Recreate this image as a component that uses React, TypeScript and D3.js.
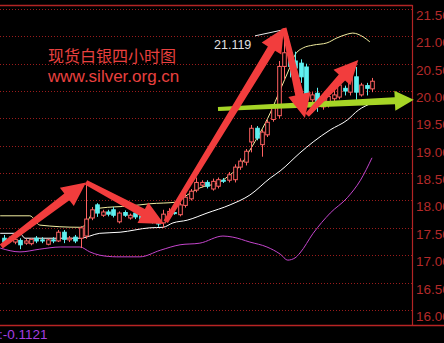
import React from 'react';
import * as d3 from 'd3';

// ---- data ----
const opens = [17.31, 17.28, 17.24, 17.27, 17.22, 17.21, 17.31, 17.28, 17.20, 17.28,
  17.26, 17.42, 17.28, 17.33, 17.31, 17.35, 17.68, 17.92, 17.73, 17.79,
  17.83, 17.61, 17.78, 17.68, 17.77, 17.72, 17.63, 17.68, 17.63, 17.59,
  17.72, 17.78, 17.74, 17.91, 18.03, 18.19, 18.28, 18.33, 18.21, 18.26,
  18.37, 18.37, 18.38, 18.61, 18.70, 19.07, 19.32, 19.02, 19.20, 19.48,
  19.55, 20.45, 20.70, 20.55, 20.51, 20.44, 19.84, 19.96, 19.71, 19.74,
  19.86, 19.89, 20.05, 19.98, 20.26, 19.93, 20.10, 20.04];
const highs = [17.37, 17.34, 17.32, 17.31, 17.30, 17.31, 17.35, 17.33, 17.30, 17.33,
  17.46, 17.46, 17.35, 17.37, 17.53, 18.32, 17.88, 17.95, 17.83, 17.83,
  17.88, 17.80, 17.82, 17.76, 17.80, 17.76, 17.72, 17.71, 17.66, 17.83,
  17.86, 17.80, 17.96, 18.15, 18.21, 18.42, 18.37, 18.37, 18.40, 18.42,
  18.41, 18.52, 18.66, 18.77, 18.94, 19.38, 19.36, 19.30, 19.48, 19.76,
  20.55, 21.119, 20.80, 20.72, 20.58, 20.50, 19.98, 20.06, 19.88, 19.95,
  20.02, 20.38, 20.10, 20.42, 20.44, 20.15, 20.15, 20.24];
const lows = [17.17, 17.22, 17.20, 17.11, 17.19, 17.18, 17.22, 17.22, 17.18, 17.22,
  17.24, 17.22, 17.24, 17.22, 17.13, 17.30, 17.64, 17.70, 17.70, 17.71,
  17.69, 17.58, 17.70, 17.65, 17.66, 17.62, 17.60, 17.58, 17.52, 17.50,
  17.68, 17.74, 17.71, 17.87, 18.00, 18.15, 18.24, 18.22, 18.18, 18.22,
  18.32, 18.33, 18.33, 18.56, 18.64, 18.88, 19.10, 18.80, 19.16, 19.44,
  19.50, 20.20, 20.25, 20.30, 20.15, 19.75, 19.60, 19.62, 19.66, 19.70,
  19.78, 19.85, 19.92, 19.92, 19.84, 19.90, 19.92, 19.98];
const closes = [17.24, 17.26, 17.29, 17.19, 17.26, 17.29, 17.26, 17.26, 17.28, 17.26,
  17.42, 17.29, 17.31, 17.26, 17.50, 17.66, 17.83, 17.77, 17.79, 17.75,
  17.73, 17.77, 17.73, 17.73, 17.70, 17.66, 17.68, 17.62, 17.57, 17.75,
  17.80, 17.76, 17.92, 18.06, 18.17, 18.33, 18.33, 18.26, 18.35, 18.38,
  18.36, 18.47, 18.61, 18.72, 18.90, 19.32, 19.14, 19.25, 19.43, 19.70,
  20.45, 20.70, 20.45, 20.42, 20.26, 19.84, 19.93, 19.78, 19.83, 19.90,
  19.93, 20.11, 20.00, 20.30, 19.98, 20.11, 20.05, 20.18];

const yTicks = [16, 16.5, 17, 17.5, 18, 18.5, 19, 19.5, 20, 20.5, 21, 21.5];

// bands as [candle index, price]
const upperBand: [number, number][] = [
  [-0.6, 17.72], [4.8, 17.72], [6.6, 17.55], [13.9, 17.51], [14.8, 17.55], [16.3, 17.79],
  [17.5, 17.86], [23.0, 17.90], [26.6, 17.94], [31.5, 17.97], [33.4, 18.10], [35.7, 18.23],
  [39.4, 18.34], [41.2, 18.47], [43.0, 18.63], [44.8, 18.92], [48.5, 19.60], [50.3, 20.02],
  [52.1, 20.44], [53.0, 20.66], [54.5, 20.79], [56.3, 20.84], [58.8, 20.88], [60.6, 20.97],
  [62.5, 21.04], [63.5, 21.06], [65.4, 20.99], [66.6, 20.90]];
const midBand: [number, number][] = [
  [-0.6, 17.40], [3.0, 17.40], [3.9, 17.31], [13.9, 17.31], [17.5, 17.40], [21.2, 17.42],
  [26.6, 17.50], [29.0, 17.51], [30.8, 17.59], [33.4, 17.64], [37.0, 17.77], [41.2, 17.92],
  [44.8, 18.10], [48.5, 18.41], [50.3, 18.54], [53.9, 18.87], [56.3, 19.07], [59.4, 19.29],
  [62.5, 19.47], [64.5, 19.65], [67.0, 19.78]];
const lowerBand: [number, number][] = [
  [-0.6, 17.13], [3.0, 17.06], [6.6, 17.11], [10.3, 17.15], [13.9, 17.15], [15.7, 17.06],
  [17.5, 17.00], [20.6, 16.97], [24.8, 16.97], [28.5, 17.09], [32.1, 17.19], [35.7, 17.22],
  [39.9, 17.35], [41.7, 17.33], [44.8, 17.24], [47.9, 17.15], [50.3, 17.02], [51.7, 16.91],
  [53.0, 16.95], [53.9, 17.04], [56.3, 17.40], [59.4, 17.77], [62.5, 18.05], [64.9, 18.37],
  [67.0, 18.78]];

// annotation arrows: [from, to] as [candle index, price]
const redArrows: [[number, number], [number, number]][] = [
  [[-0.4, 17.16], [15.0, 18.33]],
  [[15.0, 18.33], [29.2, 17.57]],
  [[29.5, 17.61], [51.0, 21.15]],
  [[51.0, 21.15], [54.8, 19.51]],
  [[55.2, 19.56], [64.5, 20.57]],
];
const greenArrow: [[number, number], [number, number]] = [[39.0, 19.67], [74.6, 19.84]];

const titleText = '现货白银四小时图';
const siteText = 'www.silver.org.cn';
const peakLabel = '21.119';
const peakIndex = 51;
const indicatorText = ':-0.1121';

function arrowPoints(x1: number, y1: number, x2: number, y2: number,
  tailW: number, shaftW: number, headLen: number, headW: number): string {
  const dx = x2 - x1, dy = y2 - y1;
  const L = Math.hypot(dx, dy);
  const ux = dx / L, uy = dy / L;
  const nx = -uy, ny = ux;
  const bx = x2 - ux * headLen, by = y2 - uy * headLen;
  const pts = [
    [x1 + nx * tailW / 2, y1 + ny * tailW / 2],
    [bx + nx * shaftW / 2, by + ny * shaftW / 2],
    [bx + nx * headW, by + ny * headW],
    [x2, y2],
    [bx - nx * headW, by - ny * headW],
    [bx - nx * shaftW / 2, by - ny * shaftW / 2],
    [x1 - nx * tailW / 2, y1 - ny * tailW / 2],
  ];
  return pts.map(p => p[0].toFixed(1) + ',' + p[1].toFixed(1)).join(' ');
}

export default function App() {
  const W = 444, H = 343;
  const N = opens.length;
  const axisX = 412.5;
  const x = d3.scaleLinear().domain([0, N - 1]).range([3.5, 3.5 + 5.5 * (N - 1)]);
  const y = d3.scaleLinear().domain([16, 21.5]).range([309.9, 9]);
  const line = d3.line<[number, number]>().x(d => x(d[0])).y(d => y(d[1])).curve(d3.curveMonotoneX);
  const red = '#ff6262';
  const cyan = '#5ff0f0';
  const bodyW = 3.6;
  const px = x(peakIndex), py = y(highs[peakIndex]);

  return (
    <svg width={W} height={H} style={{ position: 'absolute', left: 0, top: 0, background: '#000' }}>
      <rect x={0} y={0} width={W} height={H} fill="#000" />
      {/* grid */}
      {yTicks.map(t => (
        <line key={'g' + t} x1={0} x2={axisX} y1={Math.round(y(t)) + 0.5} y2={Math.round(y(t)) + 0.5}
          stroke="#9a1c1c" strokeWidth={1} strokeDasharray="1,2" />
      ))}
      <line x1={0} x2={axisX} y1={5.5} y2={5.5} stroke="#b22424" strokeWidth={1.5} />
      <line x1={axisX} x2={axisX} y1={5} y2={326} stroke="#b22424" strokeWidth={1.2} />
      <line x1={0} x2={W} y1={325.5} y2={325.5} stroke="#b82424" strokeWidth={1.5} />
      {yTicks.map(t => (
        <text key={'t' + t} x={416} y={Math.round(y(t)) + 10.5} fill="#b42a2a"
          fontFamily="Liberation Sans, Arial, sans-serif" fontSize={13.5}>{t.toFixed(2)}</text>
      ))}
      {/* bands */}
      <path d={line(upperBand) || ''} fill="none" stroke="#f3eea0" strokeWidth={1} />
      <path d={line(midBand) || ''} fill="none" stroke="#ffffff" strokeWidth={1} />
      <path d={line(lowerBand) || ''} fill="none" stroke="#c445cc" strokeWidth={1} />
      {/* candles */}
      {opens.map((o, i) => {
        const c = closes[i];
        const up = c >= o;
        const col = up ? red : cyan;
        const cx = Math.round(x(i)) + 0.5;
        const top = y(Math.max(o, c)), bot = y(Math.min(o, c));
        const h = Math.max(1, bot - top);
        return (
          <g key={'c' + i}>
            <line x1={cx} x2={cx} y1={y(highs[i])} y2={y(lows[i])} stroke={col} strokeWidth={1} />
            <rect x={cx - bodyW / 2} y={top} width={bodyW} height={h}
              fill={up ? '#000' : col} stroke={col} strokeWidth={1} />
          </g>
        );
      })}
      {/* peak label */}
      <line x1={px - 29} y1={py + 6} x2={px - 1} y2={py} stroke="#e8e8e8" strokeWidth={1} />
      <text x={px - 70} y={py + 19} fill="#e0e0e0" fontFamily="Liberation Sans, Arial, sans-serif" fontSize={12.5}>{peakLabel}</text>
      {/* arrows */}
      <polygon points={arrowPoints(x(greenArrow[0][0]), y(greenArrow[0][1]), x(greenArrow[1][0]), y(greenArrow[1][1]), 4, 7, 19, 10)}
        fill="#a6d526" />
      {redArrows.map((a, k) => (
        <polygon key={'a' + k}
          points={arrowPoints(x(a[0][0]), y(a[0][1]), x(a[1][0]), y(a[1][1]), 5, 8.5, 24, 11.5)}
          fill="#f23d3d" />
      ))}
      {/* texts */}
      <text x={48} y={62} fill="#e8403f" fontFamily="Noto Sans CJK SC, sans-serif" fontSize={16}>{titleText}</text>
      <text x={48} y={82} fill="#e8403f" fontFamily="Liberation Sans, Arial, sans-serif" fontSize={17}>{siteText}</text>
      <text x={-1} y={339} fill="#a53ee0" fontFamily="Liberation Sans, Arial, sans-serif" fontSize={13.5}>{indicatorText}</text>
    </svg>
  );
}
